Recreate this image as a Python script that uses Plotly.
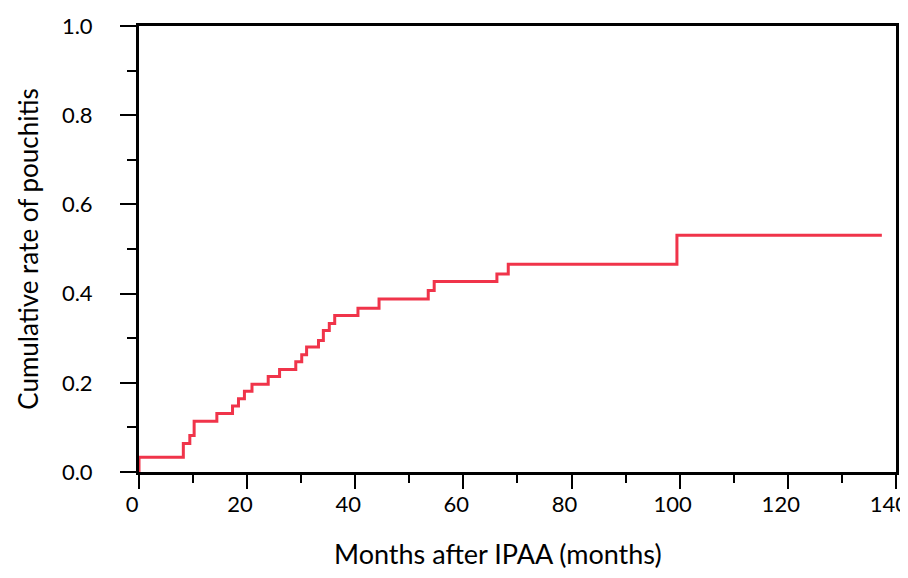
import plotly.graph_objects as go

# Step points (months, cumulative rate)
months = [0, 0, 8.2, 9.4, 10.2, 14.4, 17.3, 18.4, 19.5, 20.9, 23.9, 26.0, 29.0, 30.1,
          31.0, 33.2, 34.1, 35.2, 36.2, 40.5, 44.4, 53.5, 54.6, 66.2, 68.3, 99.5, 137.4]
rate = [0.0, 0.033, 0.064, 0.082, 0.114, 0.131, 0.148, 0.164, 0.181, 0.197, 0.214, 0.230,
        0.247, 0.263, 0.280, 0.295, 0.317, 0.333, 0.351, 0.367, 0.388, 0.407, 0.427, 0.444,
        0.466, 0.531, 0.531]

x_ticks = [0, 20, 40, 60, 80, 100, 120, 140]
y_ticks = [0.0, 0.2, 0.4, 0.6, 0.8, 1.0]
y_tick_labels = ["0.0", "0.2", "0.4", "0.6", "0.8", "1.0"]
x_title = "Months after IPAA (months)"
y_title = "Cumulative rate of pouchitis"

FONT = "Lato, 'Open Sans', sans-serif"

fig = go.Figure()
fig.add_trace(go.Scatter(
    x=months, y=rate, mode="lines", line_shape="hv",
    line=dict(color="#F0344A", width=3), cliponaxis=False, showlegend=False,
))

# page body has an 8px margin, so the figure is sized/offset to compensate
fig.update_layout(
    width=900, height=570,
    margin=dict(l=131, r=12, t=18, b=106, autoexpand=False),
    paper_bgcolor="white", plot_bgcolor="white",
    font=dict(family=FONT, color="black"),
    xaxis=dict(
        range=[0, 140.02], tickvals=x_ticks, ticktext=[str(v) for v in x_ticks],
        showgrid=False, zeroline=False, automargin=False,
        showline=True, linecolor="black", linewidth=3, mirror=True,
        ticks="outside", ticklen=14, tickwidth=2, tickcolor="black",
        minor=dict(dtick=10, ticks="outside", ticklen=8, tickwidth=2, tickcolor="black"),
        tickfont=dict(size=22, family=FONT),
        ticklabeloverflow="allow", ticklabelshift=-7, ticklabelstandoff=-3,
    ),
    yaxis=dict(
        range=[0, 1.0], tickvals=y_ticks, ticktext=y_tick_labels,
        showgrid=False, zeroline=False, automargin=False,
        showline=True, linecolor="black", linewidth=3, mirror=True,
        ticks="outside", ticklen=16, tickwidth=2, tickcolor="black",
        minor=dict(dtick=0.1, ticks="outside", ticklen=9, tickwidth=2, tickcolor="black"),
        tickfont=dict(size=22, family=FONT),
        ticklabeloverflow="allow", ticklabelstandoff=23,
        title=dict(text=y_title, font=dict(size=26, family=FONT), standoff=16),
    ),
    annotations=[dict(
        text=x_title, xref="paper", yref="paper", x=0.474, y=0,
        xanchor="center", yanchor="middle", yshift=-81, showarrow=False,
        font=dict(size=27, family=FONT, color="black"),
    )],
)

fig.write_html("out.html")
